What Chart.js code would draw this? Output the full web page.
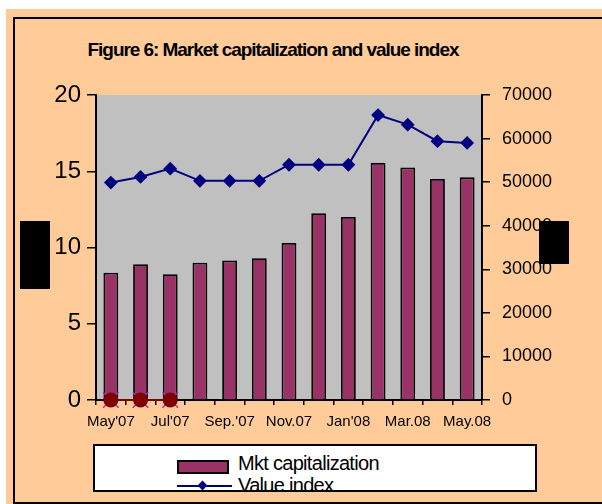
<!DOCTYPE html>
<html>
<head>
<meta charset="utf-8">
<script src="https://cdn.jsdelivr.net/npm/chart.js@4.4.1/dist/chart.umd.min.js"></script>
<style>
  html, body { margin:0; padding:0; background:#fff; width:602px; height:504px; overflow:hidden; font-family:"Liberation Sans", Arial, sans-serif; }
  #bg { position:absolute; left:6px; top:9px; width:596px; height:495px; background:#FFCC99; }
  #frame { position:absolute; left:13px; top:17px; width:620px; height:483px; border:2px solid #000; }
  #title { position:absolute; left:273px; top:39px; transform:translateX(-50%); white-space:nowrap; font-weight:bold; font-size:19px; line-height:21px; letter-spacing:-1.05px; color:#000; }
  #wrap { position:absolute; left:0; top:0; width:602px; height:440px; }
  #legend { position:absolute; left:93px; top:444px; width:440px; height:44px; border:2px solid #000; background:#fff; overflow:hidden; }
  .row { position:absolute; left:0; height:22px; font-size:20px; line-height:22px; letter-spacing:-0.7px; white-space:nowrap; }
  .txt { position:absolute; left:143px; top:0; }
  .sw { position:absolute; left:82px; top:8px; width:48px; height:10px; background:#993366; border:2px solid #000; }
  .ln { position:absolute; left:82px; top:11px; width:55px; height:2px; background:#000080; }
  .dm { position:absolute; left:104px; top:8px; width:7px; height:7px; background:#000080; transform:rotate(45deg); }
  .blk { position:absolute; background:#000; }
</style>
</head>
<body>
<div id="bg"></div>
<div id="frame"></div>
<div id="title">Figure 6: Market capitalization and value index</div>
<div id="wrap"><canvas id="c" width="602" height="440"></canvas></div>
<div id="legend">
  <div class="row" style="top:6px"><div class="sw"></div><span class="txt">Mkt capitalization</span></div>
  <div class="row" style="top:28px"><div class="ln"></div><div class="dm"></div><span class="txt">Value index</span></div>
</div>
<div class="blk" style="left:20px;top:221px;width:30px;height:68px"></div>
<div class="blk" style="left:539px;top:221px;width:30px;height:43px"></div>
<script>
const categories = ["May'07","Jun'07","Jul'07","Aug'07","Sep.'07","Oct.'07","Nov.07","Dec.07","Jan'08","Feb'08","Mar.08","Apr.08","May.08"];
const mktCap = [8.35, 8.9, 8.25, 9.0, 9.15, 9.3, 10.3, 12.25, 12.0, 15.55, 15.25, 14.5, 14.6];
const valueIndex = [49900, 51200, 53100, 50300, 50300, 50300, 54000, 54000, 54000, 65400, 63200, 59400, 59000];
const zeroSeries = [0, 0, 0, null, null, null, null, null, null, null, null, null, null];
const leftTicks = [0, 5, 10, 15, 20];
const rightTicks = [0, 10000, 20000, 30000, 40000, 50000, 60000, 70000];

const FONT = '"Liberation Sans", Arial, sans-serif';

const bgPlugin = {
  id: 'plotBg',
  beforeDraw(chart) {
    const {ctx, chartArea: a} = chart;
    ctx.save();
    ctx.fillStyle = '#C0C0C0';
    ctx.fillRect(a.left, a.top, a.right - a.left, a.bottom - a.top);
    ctx.restore();
  }
};

new Chart(document.getElementById('c'), {
  data: {
    labels: categories,
    datasets: [
      {
        type: 'line', label: 'zero', data: zeroSeries, yAxisID: 'y', order: 0,
        borderColor: '#800000', borderWidth: 2, backgroundColor: '#800000',
        pointStyle: 'circle', pointRadius: 6.5, pointBorderColor: '#800000', clip: false
      },
      {
        type: 'line', label: 'cross', data: zeroSeries, yAxisID: 'y', order: 0.5, showLine: false,
        borderColor: '#9933CC', pointStyle: 'crossRot', pointRadius: 11, pointBorderWidth: 1.5,
        pointBorderColor: '#9933CC', clip: false
      },
      {
        type: 'line', label: 'Value index', data: valueIndex, yAxisID: 'y1', order: 1,
        borderColor: '#000080', borderWidth: 2, backgroundColor: '#000080',
        pointStyle: 'rectRot', pointRadius: 5.5, pointBorderColor: '#000080', clip: false
      },
      {
        type: 'bar', label: 'Mkt capitalization', data: mktCap, yAxisID: 'y', order: 2,
        backgroundColor: '#993366', borderColor: '#000', borderWidth: 1.8,
        categoryPercentage: 1, barPercentage: 0.5
      }
    ]
  },
  options: {
    responsive: false,
    animation: false,
    devicePixelRatio: 1,
    layout: { padding: { top: 95, left: 0, right: 0, bottom: 0 } },
    plugins: {
      legend: { display: false },
      title: { display: false },
      tooltip: { enabled: false }
    },
    scales: {
      x: {
        offset: true,
        afterFit(s) { s.height = 40; },
        grid: { offset: true, drawOnChartArea: false, color: '#000', lineWidth: 1.5, tickLength: 5 },
        border: { display: true, color: '#000', width: 2 },
        ticks: {
          autoSkip: false, maxRotation: 0, minRotation: 0, padding: 8,
          color: '#000', font: { family: FONT, size: 15 },
          callback(v, i) { return i % 2 === 0 ? categories[i] : ''; }
        }
      },
      y: {
        position: 'left', min: 0, max: 20,
        afterFit(s) { s.width = 96; },
        afterBuildTicks(s) { s.ticks = leftTicks.map(v => ({value: v})); },
        grid: { drawOnChartArea: false, color: '#000', lineWidth: 1.5, tickLength: 9 },
        border: { display: true, color: '#000', width: 2 },
        ticks: { padding: 6, color: '#000', font: { family: FONT, size: 24 } }
      },
      y1: {
        position: 'right', min: 0, max: 70000,
        afterFit(s) { s.width = 120; },
        afterBuildTicks(s) { s.ticks = rightTicks.map(v => ({value: v})); },
        grid: { drawOnChartArea: false, color: '#000', lineWidth: 1.5, tickLength: 8 },
        border: { display: true, color: '#000', width: 2 },
        ticks: { padding: 12, color: '#000', font: { family: FONT, size: 18 }, callback: v => String(v) }
      }
    }
  },
  plugins: [bgPlugin]
});
</script>
</body>
</html>
